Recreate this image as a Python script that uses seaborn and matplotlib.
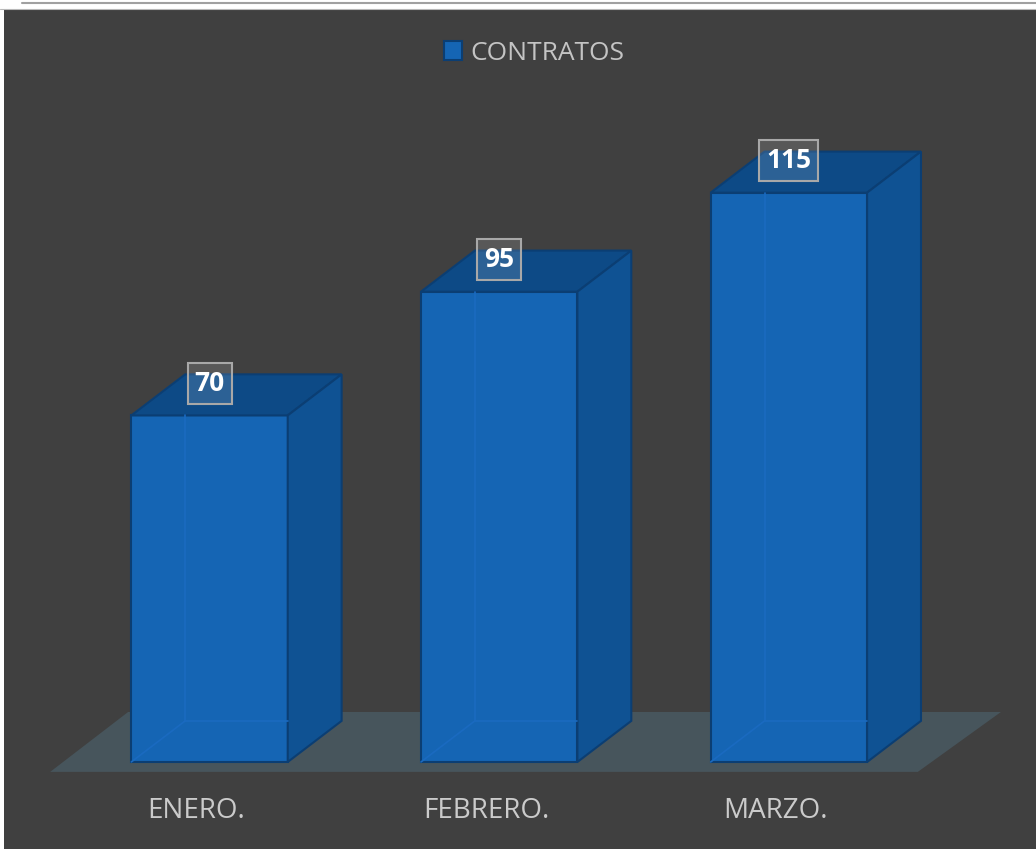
import numpy as np
import pandas as pd
import matplotlib
matplotlib.use('Agg')
import matplotlib.pyplot as plt
import seaborn as sns
from matplotlib.patches import Polygon, Rectangle, Patch
from matplotlib.lines import Line2D
from matplotlib.transforms import ScaledTranslation

# data
meses = ['ENERO.', 'FEBRERO.', 'MARZO.']
contratos = [70, 95, 115]
serie = 'CONTRATOS'

# colours
bg = '#404040'
front_col = '#1565b4'
top_col = '#0d4a86'
side_col = '#0f5293'
edge_col = '#0b3e73'
inner_col = '#1a6ac0'
floor_col = '#47555c'
text_col = '#cbcbcb'

# fake 3d depth (data units)
dx = 0.186
dy = 8.3

sns.set_style('white')
plt.rcParams['font.family'] = ['Open Sans', 'DejaVu Sans']

fig = plt.figure(figsize=(10.36, 8.49), dpi=100)
fig.patch.set_facecolor(bg)
ax = fig.add_axes([5/1036, 59/849, 1031/1036, 781/849])
ax.set_facecolor(bg)

df = pd.DataFrame({'mes': meses, 'contratos': contratos})
sns.barplot(data=df, x='mes', y='contratos', color=front_col, saturation=1,
            width=0.54, edgecolor=edge_col, linewidth=1.5, ax=ax, zorder=3)

ax.set_xlim(-0.706, 2.853)
ax.set_ylim(-5.66, 152.1)

# floor under the bars
n = len(meses)
floor = Polygon([(-0.55, -2.0), (n - 1 + 0.445, -2.0),
                 (n - 1 + 0.445 + 0.287, 10.1), (-0.55 + 0.269, 10.1)],
                closed=True, facecolor=floor_col, edgecolor='none', zorder=1)
ax.add_patch(floor)

for p in list(ax.patches[:n]):
    x0 = p.get_x()
    x1 = x0 + p.get_width()
    h = p.get_height()
    # back edges seen through the front face
    ax.plot([x0 + dx, x0 + dx], [dy, h], color=inner_col, lw=1.2, zorder=3.5)
    ax.plot([x0 + dx, x1], [dy, dy], color=inner_col, lw=1.2, zorder=3.5)
    ax.plot([x0, x0 + dx], [0, dy], color=inner_col, lw=1.2, zorder=3.5)
    top = Polygon([(x0, h), (x1, h), (x1 + dx, h + dy), (x0 + dx, h + dy)],
                  closed=True, facecolor=top_col, edgecolor=edge_col, lw=1.5, zorder=3)
    side = Polygon([(x1, 0), (x1 + dx, dy), (x1 + dx, h + dy), (x1, h)],
                   closed=True, facecolor=side_col, edgecolor=edge_col, lw=1.5, zorder=3)
    ax.add_patch(top)
    ax.add_patch(side)
    ax.text(x0 + p.get_width() / 2, h + 6.5, f'{h:.0f}', ha='center', va='center',
            color='white', fontsize=19, fontweight='bold', zorder=5,
            bbox=dict(boxstyle='square,pad=0.26', facecolor=(1, 1, 1, 0.13),
                      edgecolor='#a8a8a8', lw=1.5))

ax.set_xlabel('')
ax.set_ylabel('')
ax.set_yticks([])
ax.set_xticks(range(n))
ax.set_xticklabels(meses, color=text_col, fontsize=20)
ax.tick_params(axis='x', length=0, pad=5)
shift = ScaledTranslation(-13/100, 0, fig.dpi_scale_trans)
for lab in ax.get_xticklabels():
    lab.set_transform(lab.get_transform() + shift)
for s in ax.spines.values():
    s.set_visible(False)

handle = Patch(facecolor=front_col, edgecolor=edge_col, lw=1.5, label=serie)
leg = ax.legend(handles=[handle], loc='center', bbox_to_anchor=(534/1036, 1 - 53/849),
                bbox_transform=fig.transFigure, frameon=False, fontsize=19,
                handlelength=0.7, handleheight=0.7, handletextpad=0.3)
for t in leg.get_texts():
    t.set_color('#c4c4c4')

# white strip on top and left, like the pasted screenshot
fig.patches.append(Rectangle((0, 1 - 9/849), 1, 9/849, transform=fig.transFigure,
                             facecolor='white', edgecolor='none', zorder=5))
fig.patches.append(Rectangle((0, 0), 4/1036, 1, transform=fig.transFigure,
                             facecolor='white', edgecolor='none', zorder=5))
fig.lines.append(Line2D([22/1036, 1], [1 - 2.7/849, 1 - 2.7/849], transform=fig.transFigure,
                        color='#a0a0a0', lw=1.5, zorder=6))
fig.lines.append(Line2D([0, 1], [1 - 8.8/849, 1 - 8.8/849], transform=fig.transFigure,
                        color='#b8b8b8', lw=0.8, zorder=6))

plt.savefig('out.png', dpi=100, facecolor=fig.get_facecolor())
